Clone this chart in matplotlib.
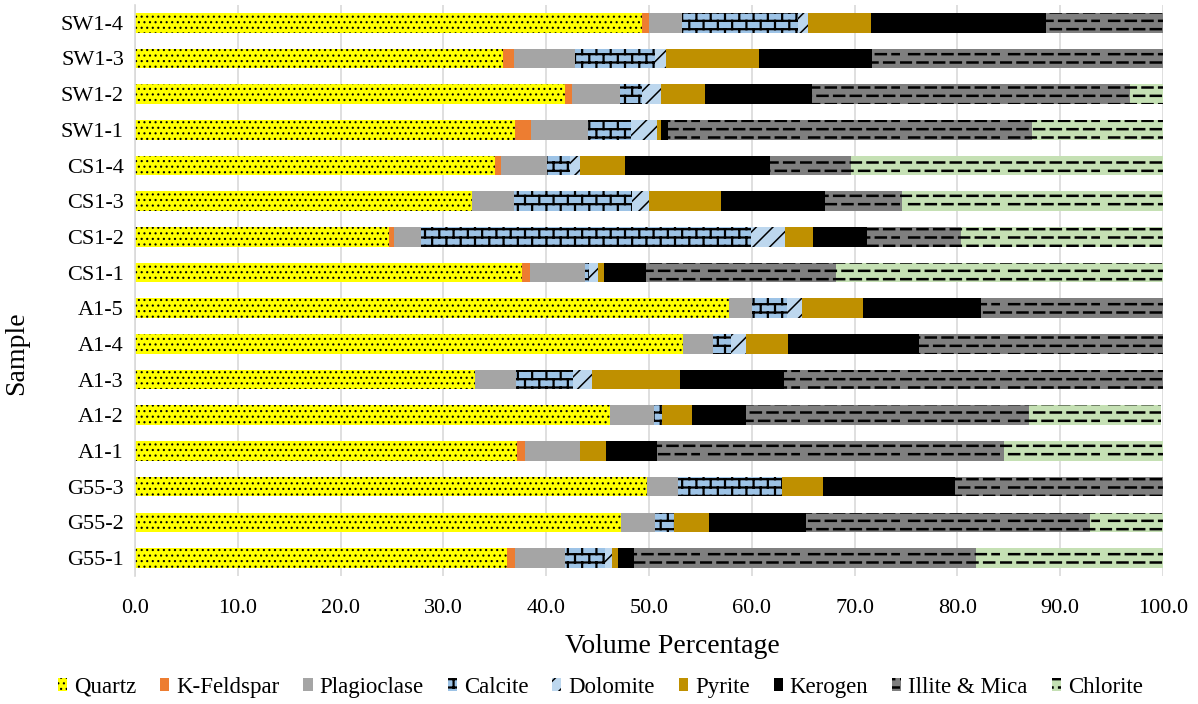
import numpy as np
import matplotlib
matplotlib.use("Agg")
import matplotlib.pyplot as plt
import matplotlib.hatch as mhatch
from matplotlib.path import Path

samples = ["G55-1", "G55-2", "G55-3", "A1-1", "A1-2", "A1-3", "A1-4", "A1-5",
           "CS1-1", "CS1-2", "CS1-3", "CS1-4", "SW1-1", "SW1-2", "SW1-3", "SW1-4"]
minerals = ["Quartz", "K-Feldspar", "Plagioclase", "Calcite", "Dolomite",
            "Pyrite", "Kerogen", "Illite & Mica", "Chlorite"]

quartz = [36.2, 47.3, 49.8, 37.2, 46.2, 33.1, 53.3, 57.8, 37.6, 24.7, 32.8, 35.0, 37.0, 41.8, 35.8, 49.3]
k_feldspar = [0.8, 0, 0, 0.7, 0, 0, 0, 0, 0.8, 0.5, 0, 0.6, 1.5, 0.7, 1.1, 0.7]
plagioclase = [4.8, 3.3, 3.0, 5.4, 4.3, 4.0, 2.9, 2.2, 5.4, 2.6, 4.1, 4.5, 5.6, 4.7, 5.9, 3.2]
calcite = [3.9, 1.8, 10.1, 0, 0.8, 5.5, 1.8, 3.4, 0.4, 32.1, 11.4, 2.2, 4.1, 2.1, 7.8, 11.3]
dolomite = [0.7, 0, 0, 0, 0, 1.9, 1.4, 1.5, 0.8, 3.3, 1.7, 1.0, 2.6, 1.9, 1.1, 1.0]
pyrite = [0.6, 3.4, 4.0, 2.5, 2.9, 8.5, 4.1, 5.9, 0.6, 2.8, 7.0, 4.4, 0.4, 4.2, 9.0, 6.1]
kerogen = [1.5, 9.5, 12.9, 5.0, 5.2, 10.1, 12.8, 11.5, 4.1, 5.2, 10.1, 14.1, 0.6, 10.5, 11.0, 17.0]
illite = [33.3, 27.6, 20.2, 33.7, 27.6, 36.9, 23.7, 17.7, 18.5, 9.1, 7.5, 7.8, 35.5, 30.9, 28.3, 11.4]
chlorite = [18.2, 7.1, 0, 15.5, 12.8, 0, 0, 0, 31.8, 19.7, 25.4, 30.4, 12.7, 3.2, 0, 0]

values = [quartz, k_feldspar, plagioclase, calcite, dolomite, pyrite, kerogen, illite, chlorite]
colors = ["#FFFF00", "#ED7D31", "#A5A5A5", "#9DC3E6", "#BDD7EE",
          "#BF9000", "#000000", "#7F7F7F", "#C5E0B4"]
hatches = ["...", None, None, "bb", "//", None, None, "__", "__"]
hatch_lw = [0.8, 1, 1, 1.6, 1.1, 1, 1, 1.8, 1.8]


# custom hatches: dashed lines ('_') and bricks ('b'), like the Excel patterns
class SegHatch(mhatch.HatchPatternBase):
    char = ""

    def __init__(self, hatch, density):
        n = hatch.count(self.char) * density
        self.segs = self.make(n) if n else []
        self.num_vertices = 2 * len(self.segs)

    def set_vertices_and_codes(self, vertices, codes):
        for i, (x0, y0, x1, y1) in enumerate(self.segs):
            vertices[2 * i] = (x0, y0)
            vertices[2 * i + 1] = (x1, y1)
            codes[2 * i] = Path.MOVETO
            codes[2 * i + 1] = Path.LINETO


class DashHatch(SegHatch):
    char = "_"

    def make(self, n):
        m = n // 2
        p = 1.0 / m
        segs = []
        for i in range(n):
            y = (i + 0.5) / n
            off = 0.5 * p if i % 2 else 0.0
            for k in range(m):
                x0 = k * p + off + 0.05 * p
                segs.append((x0, y, x0 + 0.6 * p, y))
        return segs


class BrickHatch(SegHatch):
    char = "b"

    def make(self, n):
        m = int(round(n * 0.6))
        segs = []
        for i in range(n):
            y = (i + 0.5) / n
            segs.append((0.0, y, 1.0, y))
            off = 0.5 if i % 2 else 0.0
            for k in range(m):
                x = (k + 0.25 + off) / m
                y1 = y + 1.0 / n
                if y1 > 1.0:
                    segs.append((x, y, x, 1.0))
                    segs.append((x, 0.0, x, y1 - 1.0))
                else:
                    segs.append((x, y, x, y1))
        return segs


mhatch._hatch_types.extend([DashHatch, BrickHatch])
mhatch._validate_hatch_pattern = lambda h: None

plt.rcParams["font.family"] = ["Liberation Serif", "DejaVu Serif"]
plt.rcParams["hatch.color"] = "black"
plt.rcParams["hatch.linewidth"] = 1.2

fig = plt.figure(figsize=(11.98, 7.04), dpi=100)
ax = fig.add_axes([0.1127, 0.182, 0.8581, 0.811])

y = np.arange(len(samples))
left = np.zeros(len(samples))
for name, vals, col, hat, hlw in zip(minerals, values, colors, hatches, hatch_lw):
    vals = np.array(vals, dtype=float)
    bars = ax.barh(y, vals, left=left, height=0.55, color=col, hatch=hat,
                   linewidth=0, label=name, zorder=2)
    for b in bars:
        if hasattr(b, "set_hatch_linewidth"):
            b.set_hatch_linewidth(hlw)
    left += vals

ax.set_xlim(0, 100)
ax.set_ylim(-0.5, len(samples) - 0.5)
ax.set_xticks(np.arange(0, 101, 10))
ax.set_xticklabels([f"{v:.1f}" for v in range(0, 101, 10)])
ax.set_yticks(y)
ax.set_yticklabels(samples)
ax.tick_params(axis="both", length=0, labelsize=16, pad=8)
ax.tick_params(axis="x", pad=17)
ax.grid(axis="x", color="#D9D9D9", linewidth=1.2, zorder=0)
for s in ["top", "right", "bottom"]:
    ax.spines[s].set_visible(False)
ax.spines["left"].set_color("#D9D9D9")
ax.spines["left"].set_linewidth(1.2)

ax.set_xlabel("Volume Percentage", fontsize=20)
ax.xaxis.set_label_coords(0.523, -0.101)
ax.set_ylabel("Sample", fontsize=20)
ax.yaxis.set_label_coords(-0.103, 0.39)

leg = fig.legend(loc="center", bbox_to_anchor=(0.501, 0.024), ncol=9, frameon=False,
                 fontsize=16.5, handlelength=0.4, handleheight=0.5, handletextpad=0.3,
                 columnspacing=1.05)
for h, hlw in zip(leg.legend_handles, hatch_lw):
    if hasattr(h, "set_hatch_linewidth"):
        h.set_hatch_linewidth(hlw)

fig.savefig("out.png", dpi=100)
